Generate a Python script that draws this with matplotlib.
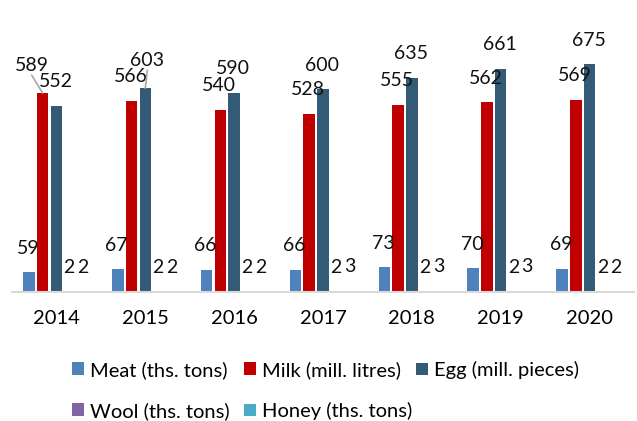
import numpy as np
import matplotlib
matplotlib.use("Agg")
import matplotlib.pyplot as plt

plt.rcParams["font.family"] = ["Lato", "DejaVu Sans"]

# ---------------------------- data ----------------------------
years = ["2014", "2015", "2016", "2017", "2018", "2019", "2020"]
meat = [59, 67, 66, 66, 73, 70, 69]          # ths. tons
milk = [589, 566, 540, 528, 555, 562, 569]   # mill. litres
egg = [552, 603, 590, 600, 635, 661, 675]    # mill. pieces
wool = [2, 2, 2, 2, 2, 2, 2]                 # ths. tons
honey = [2, 2, 2, 3, 3, 3, 2]                # ths. tons

series_names = ["Meat (ths. tons)", "Milk (mill. litres)", "Egg (mill. pieces)",
                "Wool (ths. tons)", "Honey (ths. tons)"]
series_values = [meat, milk, egg, wool, honey]
series_colors = ["#4F81BD", "#C00000", "#335B76", "#8064A2", "#4BACC6"]

# labels that were pulled away from their bar (series index, year index) -> offset px
moved_labels = {(1, 0): (-11, 28), (2, 1): (2, 28)}

# ---------------------------- plot ----------------------------
fig = plt.figure(figsize=(6.37, 4.21), dpi=100)
ax = fig.add_axes([12 / 637, 129 / 421, 622 / 637, 282 / 421])

x = np.arange(len(years))
slot = 0.155
width = 0.13

bars = []
for i, (name, vals, col) in enumerate(zip(series_names, series_values, series_colors)):
    pos = x + (i - 2) * slot
    b = ax.bar(pos, vals, width=width, color=col, label=name, zorder=2)
    bars.append(b)
    for j, (px, v) in enumerate(zip(pos, vals)):
        dx, dy = moved_labels.get((i, j), (-1, 24))
        ax.annotate(str(v), (px, v), xytext=(dx, dy), textcoords="offset pixels",
                    ha="center", va="center", fontsize=14, color="#111111")
        if (i, j) in moved_labels:
            # leader line from the label back to the bar top
            ax.annotate("", (px, v), xytext=(dx, dy - 10), textcoords="offset pixels",
                        arrowprops=dict(arrowstyle="-", color="#A6A6A6", lw=1.2,
                                        shrinkA=0, shrinkB=0))

ax.set_xlim(-0.5, len(years) - 0.5)
ax.set_ylim(0, 835)
ax.set_xticks(x)
ax.set_xticklabels(years, fontsize=14.5)
ax.tick_params(axis="x", length=0, pad=13)
ax.set_yticks([])
for side in ["top", "right", "left"]:
    ax.spines[side].set_visible(False)
ax.spines["bottom"].set_color("#D9D9D9")
ax.spines["bottom"].set_linewidth(1.5)

# legend in three fixed-width columns: Meat/Wool, Milk/Honey, Egg
legend_columns = [[0, 3], [1, 4], [2]]
column_x = [72, 244, 416]
for idx, lx in zip(legend_columns, column_x):
    fig.legend([bars[k] for k in idx], [series_names[k] for k in idx],
               loc="upper left", bbox_to_anchor=(lx / 637, 1 - 361 / 421),
               frameon=False, fontsize=14.5, borderpad=0, borderaxespad=0,
               handlelength=0.6, handleheight=0.6, handletextpad=0.3,
               labelspacing=1.15)

fig.savefig("out.png", dpi=100)
